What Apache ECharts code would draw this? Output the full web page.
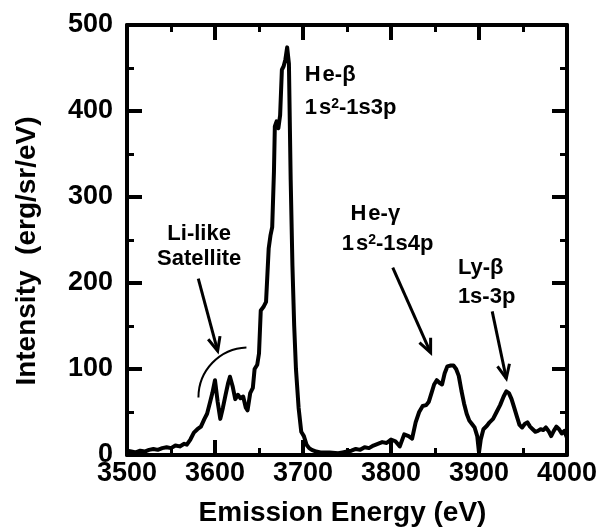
<!DOCTYPE html>
<html><head><meta charset="utf-8">
<script src="https://cdn.jsdelivr.net/npm/echarts@6/dist/echarts.min.js"></script>
<style>html,body{margin:0;padding:0;background:#fff}#c{width:601px;height:532px}</style>
</head><body><div id="c"></div>
<script>
// ---- data ----
const energy = [3500,3505,3510,3515,3520,3525,3530,3535,3540,3545,3550,3555,3560,3565,3568,3572,3576,3580,3584,3588,3591,3594,3597,3600,3603,3606,3609,3612,3615,3617,3620,3623,3626,3629,3632,3635,3637,3640,3643,3645,3648,3650,3652,3655,3658,3661,3663,3665,3667,3668,3670,3672,3674,3676,3678,3680,3682,3684,3686,3688,3690,3692,3695,3698,3701,3704,3707,3710,3715,3720,3730,3740,3745,3750,3755,3760,3765,3770,3775,3780,3785,3790,3795,3800,3805,3810,3815,3820,3824,3828,3832,3836,3840,3843,3846,3849,3852,3855,3858,3861,3864,3868,3871,3874,3877,3880,3883,3886,3889,3892,3895,3898,3900,3902,3905,3909,3912,3916,3920,3924,3928,3931,3934,3937,3940,3943,3946,3949,3952,3955,3958,3961,3964,3967,3970,3973,3976,3979,3982,3985,3988,3991,3994,3997,4000];
const intensity = [5,4,3,5,4,6,7,6,8,9,8,11,10,13,12,18,26,30,33,42,48,60,72,87,62,42,55,70,84,91,80,65,70,66,68,55,52,72,78,100,105,118,168,172,178,240,255,265,330,382,388,380,395,448,452,460,474,455,320,220,150,100,55,27,22,12,8,6,4,3,3,2,3,4,5,7,6,9,8,11,13,15,14,18,16,10,24,22,19,38,50,57,58,62,72,82,87,84,82,95,103,104,104,100,92,75,60,48,40,36,32,22,3,18,30,34,38,42,50,58,68,74,72,65,55,45,35,32,36,38,33,30,27,28,30,29,32,28,22,28,33,30,25,28,20];
const xTickValues = [3500,3600,3700,3800,3900,4000];
const yTickValues = [0,100,200,300,400,500];

// annotations in data coordinates [energy, intensity]
const labelHeBeta = [3702, 442];
const labelHeBetaTr = [3702, 403];
const labelHeGamma = [3754, 280];
const labelHeGammaTr = [3744, 245];
const labelLyBeta = [3876, 217];
const labelLyBetaTr = [3876, 184];
const labelLi1 = [3582, 257];
const labelLi2 = [3582, 228];
const arrows = [
  [[3581, 205], [3603, 121]],
  [[3802, 218], [3845, 119]],
  [[3915, 167], [3931, 89]]
];
const arcCenter = [3638, 67];

const FONT = "'Liberation Sans', Arial, Helvetica, sans-serif";
const chart = echarts.init(document.getElementById('c'), null, {renderer: 'canvas'});

function axisCommon(showLabel) {
  return {
    axisLine: {show: true, onZero: false, lineStyle: {color: '#000', width: 4}},
    axisTick: {show: true, inside: true, length: 15, lineStyle: {color: '#000', width: 4}},
    minorTick: {show: true, splitNumber: 2, length: 7, lineStyle: {color: '#000', width: 3}},
    splitLine: {show: false},
    axisLabel: {show: showLabel, color: '#000', fontSize: 27, fontWeight: 'bold', fontFamily: FONT,
      formatter: v => String(v)}
  };
}

const xb = Object.assign(axisCommon(true), {
  type: 'value', min: xTickValues[0], max: xTickValues[xTickValues.length-1], interval: 100, position: 'bottom',
  name: 'Emission Energy (eV)', nameLocation: 'middle', nameGap: 44,
  nameTextStyle: {color: '#000', fontSize: 28, fontWeight: 'bold', fontFamily: FONT, padding: [0, 9, 0, 0]}
});
xb.axisLabel.margin = 5;
const xt = Object.assign(axisCommon(false), {
  type: 'value', min: 3500, max: 4000, interval: 100, position: 'top'
});
const yl = Object.assign(axisCommon(true), {
  type: 'value', min: yTickValues[0], max: yTickValues[yTickValues.length-1], interval: 100, position: 'left',
  name: 'Intensity  (erg/sr/eV)', nameLocation: 'middle', nameGap: 86, nameRotate: 90,
  nameTextStyle: {color: '#000', fontSize: 28, fontWeight: 'bold', fontFamily: FONT, padding: [0, 22, 0, 0]}
});
yl.axisLabel.margin = 14;
const yr = Object.assign(axisCommon(false), {
  type: 'value', min: 0, max: 500, interval: 100, position: 'right'
});

chart.setOption({
  animation: false,
  backgroundColor: '#fff',
  grid: {left: 127, right: 34, top: 25, bottom: 69, containLabel: false},
  xAxis: [xb, xt],
  yAxis: [yl, yr],
  series: [{
    type: 'line', xAxisIndex: 0, yAxisIndex: 0, showSymbol: false, symbol: 'none',
    data: energy.map((e, i) => [e, intensity[i]]),
    lineStyle: {color: '#000', width: 4, join: 'round'}
  }]
});

const px = p => chart.convertToPixel({xAxisIndex: 0, yAxisIndex: 0}, p);
const rich = {
  m: {fontSize: 22, fontWeight: 'bold', fontFamily: FONT, fill: '#000'},
  sp: {fontSize: 7, fontFamily: FONT},
  g: {fontSize: 22, fontWeight: 'bold', fontFamily: FONT, fill: '#000'},
  sup: {fontSize: 14, fontWeight: 'bold', fontFamily: FONT, verticalAlign: 'top', fill: '#000'}
};
function txt(p, text, align) {
  const q = px(p);
  return {type: 'text', x: q[0], y: q[1], z: 10,
    style: {text: text, rich: rich, align: align || 'left', verticalAlign: 'middle', fill: '#000',
      font: "bold 22px " + FONT}};
}
const graphics = [
  txt(labelHeBeta, '{m|H}{sp| }{m|e}{g|-β}'),
  txt(labelHeBetaTr, '{m|1}{sp| }{m|s}{sup|2}{m|-1s3p}'),
  txt(labelHeGamma, '{m|H}{sp| }{m|e}{g|-γ}'),
  txt(labelHeGammaTr, '{m|1}{sp| }{m|s}{sup|2}{m|-1s4p}'),
  txt(labelLyBeta, '{m|Ly}{g|-β}'),
  txt(labelLyBetaTr, '{m|1s-3p}'),
  txt(labelLi1, '{m|Li-like}', 'center'),
  txt(labelLi2, '{m|Satellite}', 'center')
];
arrows.forEach(a => {
  const t = px(a[0]), h = px(a[1]);
  const ang = Math.atan2(h[1]-t[1], h[0]-t[0]);
  const L = 15, s = 0.42;
  const w1 = [h[0] - L*Math.cos(ang - s), h[1] - L*Math.sin(ang - s)];
  const w2 = [h[0] - L*Math.cos(ang + s), h[1] - L*Math.sin(ang + s)];
  graphics.push({type: 'polyline', z: 10, shape: {points: [t, h]}, style: {stroke: '#000', lineWidth: 3, fill: null}});
  graphics.push({type: 'polyline', z: 10, shape: {points: [w1, h, w2]}, style: {stroke: '#000', lineWidth: 3, fill: null, lineJoin: 'miter'}});
});
const c = px(arcCenter);
graphics.push({type: 'arc', z: 10, shape: {cx: c[0], cy: c[1], r: 50, startAngle: Math.PI, endAngle: Math.PI*1.5 - 0.04, clockwise: true},
  style: {stroke: '#000', lineWidth: 2, fill: null}});
chart.setOption({graphic: graphics});
</script>
</body></html>
